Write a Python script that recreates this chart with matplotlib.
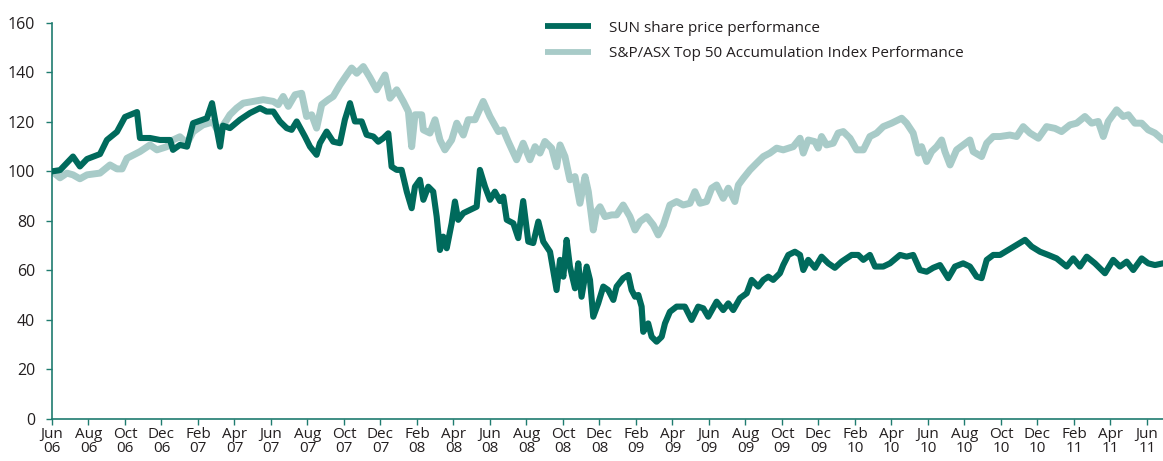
import matplotlib
matplotlib.use("Agg")
import matplotlib.pyplot as plt

# x = months since start of June 2006
sun_months = [0.00, 0.44, 1.15, 1.53, 1.92, 2.63, 3.01, 3.56, 4.00, 4.66, 4.82, 5.37, 5.92, 6.47, 6.63,
              7.01, 7.40, 7.73, 8.49, 8.77, 8.93, 9.21, 9.37, 9.75, 10.30, 10.85, 11.40, 11.76, 12.13,
              12.49, 12.86, 13.13, 13.41, 13.86, 14.14, 14.50, 14.68, 15.05, 15.41, 15.78, 16.05, 16.33,
              16.60, 16.97, 17.24, 17.61, 17.88, 18.15, 18.43, 18.61, 18.89, 19.16, 19.44, 19.71, 19.89,
              20.16, 20.35, 20.62, 20.89, 21.08, 21.26, 21.44, 21.63, 21.90, 22.08, 22.26, 22.54, 22.90,
              23.27, 23.45, 23.73, 24.00, 24.27, 24.55, 24.73, 24.92, 25.28, 25.55, 25.82, 26.10, 26.37,
              26.65, 26.92, 27.29, 27.65, 27.84, 28.02, 28.20, 28.38, 28.66, 28.84, 29.02, 29.30, 29.48,
              29.66, 29.93, 30.21, 30.48, 30.76, 30.94, 31.30, 31.58, 31.76, 31.95, 32.13, 32.31, 32.40,
              32.67, 32.86, 33.13, 33.41, 33.59, 33.86, 34.23, 34.68, 35.05, 35.41, 35.69, 35.96, 36.42,
              36.78, 37.06, 37.33, 37.70, 38.07, 38.34, 38.70, 38.98, 39.25, 39.52, 39.89, 40.07, 40.35,
              40.71, 40.99, 41.17, 41.44, 41.81, 42.17, 42.54, 42.90, 43.27, 43.82, 44.18, 44.46, 44.82,
              45.10, 45.55, 45.92, 46.47, 46.83, 47.19, 47.56, 47.93, 48.29, 48.66, 49.11, 49.48, 49.93,
              50.30, 50.67, 50.94, 51.22, 51.58, 51.95, 52.40, 53.32, 53.68, 54.14, 54.59, 55.05, 55.60,
              55.96, 56.33, 56.70, 57.15, 57.70, 58.15, 58.52, 58.89, 59.25, 59.71, 60.07, 60.44, 60.88]
sun_values = [100, 100.5, 106, 102, 105, 107, 112.7, 116, 122, 124, 113.5, 113.5, 112.7, 112.7, 108.7,
              110.7, 110, 119.5, 121.5, 127.6, 121, 110, 118.5, 117.5, 120.9, 123.6, 125.6, 124.2, 124.2,
              120.2, 117.5, 116.8, 120.2, 114.1, 110, 106.7, 111.4, 116.1, 112, 111.4, 120.9, 127.6,
              120.2, 120.2, 114.8, 114.1, 112, 113.4, 115.4, 101.9, 100.6, 100.6, 91.8, 85.1, 93.8,
              96.6, 88.5, 93.8, 91.8, 81.7, 68.2, 73.6, 68.9, 79, 87.8, 80.4, 83.1, 84.4,
              85.7, 100.6, 93.8, 88.5, 91.8, 88, 89.8, 80.4, 79, 73, 88, 71.6, 71,
              79.7, 71.6, 67.5, 52, 64.2, 57.4, 72.3, 61.5, 52.7, 62.8, 49.3, 61.5, 56.1,
              41.2, 46.6, 53.4, 52, 48, 53.4, 56.8, 58.1, 52, 49.3, 50, 45.3, 35.1,
              38.5, 33.1, 31.1, 33.1, 38.5, 43.2, 45.3, 45.3, 39.9, 45.3, 44.6, 41.2, 47.3,
              43.9, 46.6, 43.9, 48.7, 50.7, 56.1, 53.4, 56.1, 57.4, 56.1, 58.8, 62.1, 66.2,
              67.5, 66.2, 60.1, 64.2, 61, 65.5, 62.8, 61, 63.5, 66.2, 66.2, 64.2, 66.2,
              61.5, 61.5, 62.8, 66.2, 65.5, 66.2, 60.1, 59.4, 61, 62.1, 56.8, 61.5, 62.8,
              61.5, 57.4, 56.8, 64.2, 66.2, 66.2, 68.2, 72.3, 69.6, 67.5, 66.2, 64.8, 61.5,
              64.8, 61.5, 65.5, 62.8, 58.8, 64.2, 61.5, 63.5, 60.1, 64.8, 62.8, 62.1, 62.8]

idx_months = [0.00, 0.44, 0.82, 1.15, 1.53, 1.92, 2.63, 3.18, 3.56, 3.84, 4.11, 4.82, 5.37, 5.75, 6.30,
              6.63, 7.01, 7.40, 7.73, 8.27, 8.82, 9.04, 9.32, 9.59, 9.75, 10.12, 10.48, 11.03, 11.58,
              12.13, 12.40, 12.67, 12.95, 13.32, 13.68, 13.95, 14.23, 14.50, 14.78, 15.14, 15.41, 15.78,
              16.15, 16.42, 16.70, 17.06, 17.42, 17.79, 18.25, 18.52, 18.89, 19.25, 19.53, 19.71, 19.89,
              20.26, 20.35, 20.71, 20.99, 21.26, 21.53, 21.90, 22.18, 22.54, 22.81, 23.18, 23.63, 24.00,
              24.46, 24.73, 25.00, 25.46, 25.82, 26.19, 26.47, 26.74, 27.01, 27.38, 27.65, 27.84, 28.11,
              28.38, 28.66, 28.93, 29.21, 29.39, 29.66, 29.84, 30.03, 30.30, 30.67, 30.94, 31.30, 31.67,
              31.95, 32.22, 32.59, 32.95, 33.22, 33.50, 33.86, 34.23, 34.59, 34.96, 35.23, 35.51, 35.87,
              36.15, 36.42, 36.78, 37.06, 37.42, 37.61, 37.88, 38.25, 38.61, 38.98, 39.34, 39.71, 40.07,
              40.62, 40.99, 41.17, 41.44, 41.81, 41.99, 42.17, 42.44, 42.81, 43.08, 43.36, 43.73, 44.09,
              44.46, 44.82, 45.19, 45.55, 46.01, 46.56, 46.83, 47.19, 47.47, 47.65, 47.93, 48.20, 48.48,
              48.75, 48.93, 49.21, 49.57, 49.93, 50.30, 50.48, 50.94, 51.22, 51.58, 51.95, 52.49, 52.86,
              53.22, 53.59, 54.05, 54.50, 54.96, 55.32, 55.78, 56.15, 56.60, 56.97, 57.33, 57.61, 57.88,
              58.34, 58.70, 58.98, 59.34, 59.71, 60.07, 60.44, 60.88]
idx_values = [100, 97.4, 99.3, 98.6, 97, 98.6, 99.3, 102.6, 101, 101, 105.3, 108, 110.7, 108.7, 110,
              112.7, 114, 111.3, 116, 118.8, 120, 117, 118, 121, 122.9, 125.6, 127.6, 128.3, 129,
              128.3, 127, 130.3, 126.3, 131, 131.6, 122.2, 122.9, 117.5, 127, 129, 130.3, 135,
              139, 141.8, 139.7, 142.4, 138, 133, 139, 129.6, 133, 128.3, 124.2, 110, 122.9,
              122.9, 116.8, 115.5, 120.9, 112.7, 108.7, 112.7, 119.5, 114.7, 120.9, 120.9, 128.3, 122.2,
              116.1, 116.8, 112.1, 104.7, 111.4, 104.7, 110, 107.4, 112.1, 109.4, 101.9, 110.7, 106,
              96.6, 97.9, 87.1, 97.9, 91.8, 76.3, 83.7, 85.7, 81.7, 82.4, 82.4, 86.4, 81.7,
              76.3, 79.7, 81.7, 78.3, 74.3, 78.3, 86.4, 87.8, 86.4, 87.1, 91.8, 87.1, 87.8,
              93.2, 94.5, 89.1, 93.2, 87.8, 94.5, 97.2, 100.6, 103.3, 106, 107.4, 109.4, 108.7,
              110, 113.4, 107.4, 112.7, 112, 109.4, 114.1, 110.7, 111.4, 115.5, 116.1, 113.4, 108.7,
              108.7, 114.1, 115.5, 118.1, 119.5, 121.5, 119.5, 115.5, 107.4, 110, 104, 108, 110,
              112.7, 108, 102.6, 108.7, 110.7, 112.7, 108, 106, 111.4, 114.1, 114.1, 114.7, 114.1,
              118.1, 115.5, 113.4, 118.1, 117.4, 116.1, 118.8, 119.5, 122.2, 119.5, 120.2, 114.1, 120.2,
              124.9, 122.2, 122.9, 119.5, 119.5, 116.8, 115.5, 112.7]

tick_positions = list(range(0, 61, 2))
tick_labels = ["Jun\n06", "Aug\n06", "Oct\n06", "Dec\n06", "Feb\n07", "Apr\n07", "Jun\n07", "Aug\n07",
               "Oct\n07", "Dec\n07", "Feb\n08", "Apr\n08", "Jun\n08", "Aug\n08", "Oct\n08", "Dec\n08",
               "Feb\n09", "Apr\n09", "Jun\n09", "Aug\n09", "Oct\n09", "Dec\n09", "Feb\n10", "Apr\n10",
               "Jun\n10", "Aug\n10", "Oct\n10", "Dec\n10", "Feb\n11", "Apr\n11", "Jun\n11"]

series_names = ["SUN share price performance", "S&P/ASX Top 50 Accumulation Index Performance"]

plt.rcParams['font.family'] = ['Open Sans', 'DejaVu Sans']
DARK = '#006a5c'
LIGHT = '#a8cbc8'
AXIS = '#1f7c70'
TEXT = '#231f20'

fig = plt.figure(figsize=(11.63, 4.61), dpi=100)
ax = fig.add_axes([0.0447, 0.092, 0.9553, 0.858])

l2, = ax.plot(idx_months, idx_values, color=LIGHT, lw=5.0, solid_joinstyle='round',
              solid_capstyle='round', label=series_names[1], zorder=2)
l1, = ax.plot(sun_months, sun_values, color=DARK, lw=4.4, solid_joinstyle='round',
              solid_capstyle='round', label=series_names[0], zorder=3)

ax.set_xlim(0, 60.88)
ax.set_ylim(0, 160)
ax.set_yticks(range(0, 161, 20))
ax.set_xticks(tick_positions)
ax.set_xticklabels(tick_labels, linespacing=0.95)

for s in ['top', 'right']:
    ax.spines[s].set_visible(False)
for s in ['left', 'bottom']:
    ax.spines[s].set_color(AXIS)
    ax.spines[s].set_linewidth(1.2)
ax.tick_params(axis='both', colors=AXIS, direction='out', length=4, width=1.0,
               labelcolor=TEXT, labelsize=11.5)
ax.tick_params(axis='y', pad=8)
ax.tick_params(axis='x', pad=2, labelsize=11)

leg = fig.legend(handles=[l1, l2], loc='upper left', bbox_to_anchor=(0.4686, 0.955),
                 bbox_transform=fig.transFigure,
                 frameon=False, fontsize=11, handlelength=3.0, handletextpad=1.2,
                 labelspacing=0.7, borderpad=0, borderaxespad=0)
for t in leg.get_texts():
    t.set_color(TEXT)
for h in leg.legend_handles:
    h.set_solid_capstyle('butt')
    h.set_linewidth(4.2)

fig.savefig("out.png", dpi=100)
